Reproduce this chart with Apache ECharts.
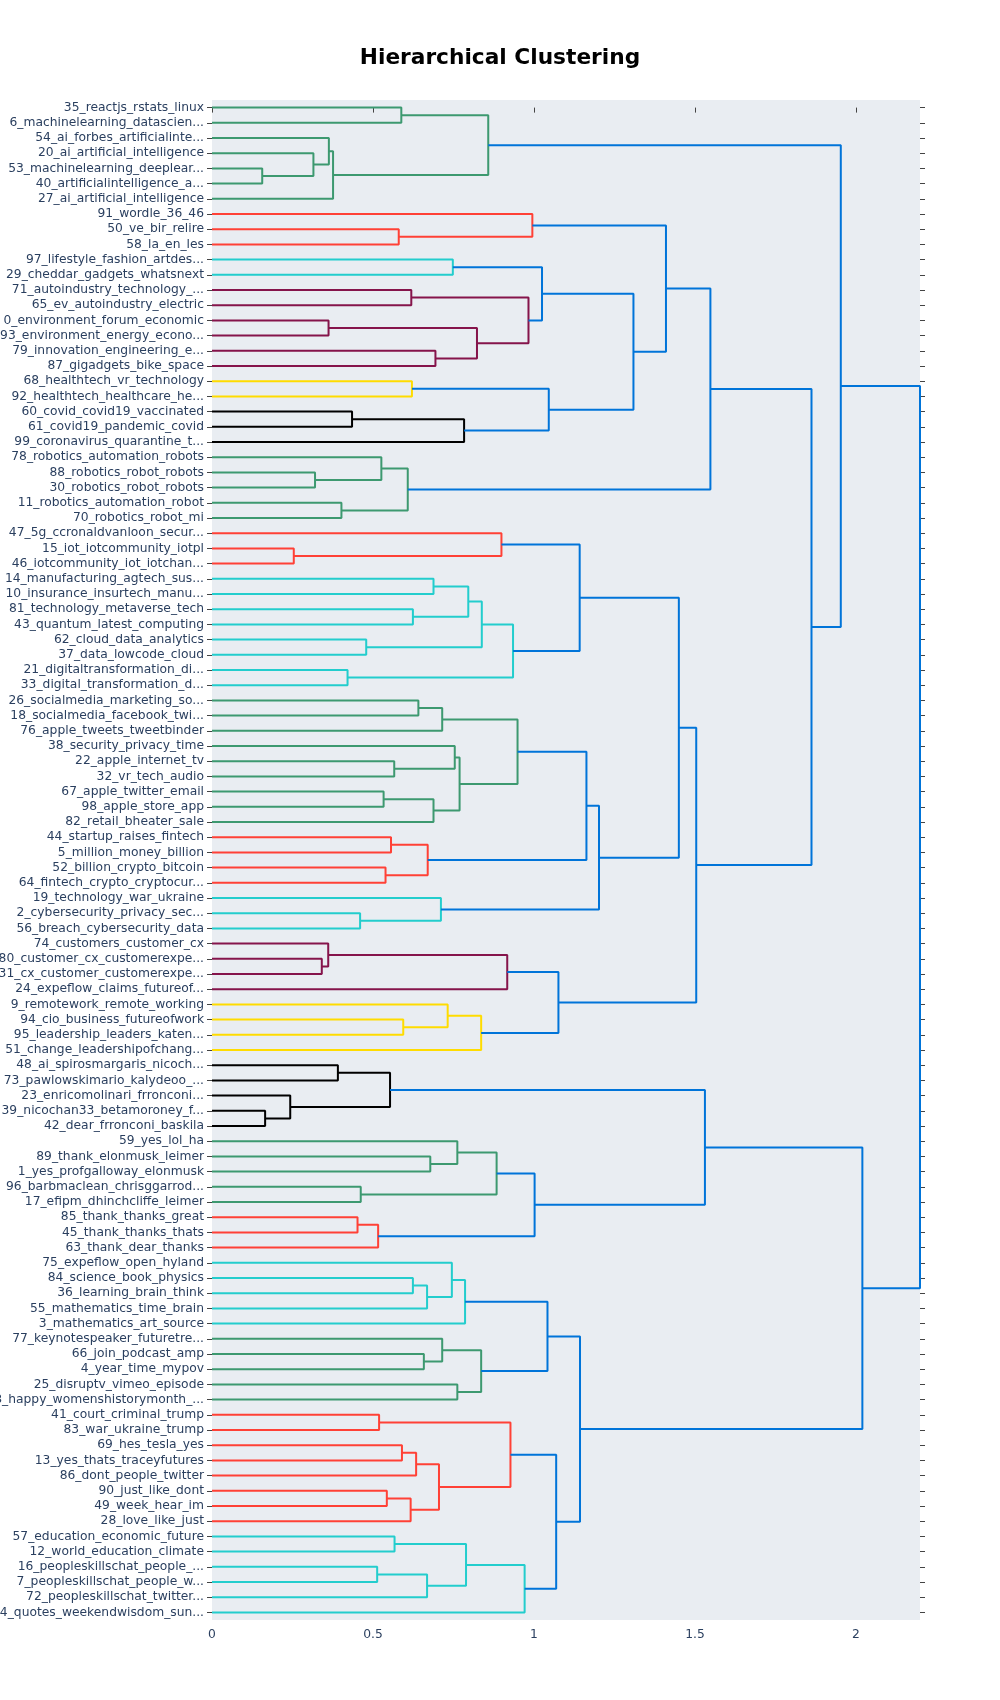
<!DOCTYPE html>
<html><head><meta charset="utf-8">
<script src="https://cdn.jsdelivr.net/npm/echarts@6/dist/echarts.min.js"></script>
<style>html,body{margin:0;padding:0;background:#fff;}#chart{width:1000px;height:1700px;}</style>
</head><body><div id="chart"></div>
<script>
// Leaf labels, top to bottom
const leafLabels = [
"35_reactjs_rstats_linux","6_machinelearning_datascien...","54_ai_forbes_artificialinte...","20_ai_artificial_intelligence",
"53_machinelearning_deeplear...","40_artificialintelligence_a...","27_ai_artificial_intelligence","91_wordle_36_46",
"50_ve_bir_relire","58_la_en_les","97_lifestyle_fashion_artdes...","29_cheddar_gadgets_whatsnext",
"71_autoindustry_technology_...","65_ev_autoindustry_electric","0_environment_forum_economic","93_environment_energy_econo...",
"79_innovation_engineering_e...","87_gigadgets_bike_space","68_healthtech_vr_technology","92_healthtech_healthcare_he...",
"60_covid_covid19_vaccinated","61_covid19_pandemic_covid","99_coronavirus_quarantine_t...","78_robotics_automation_robots",
"88_robotics_robot_robots","30_robotics_robot_robots","11_robotics_automation_robot","70_robotics_robot_mi",
"47_5g_ccronaldvanloon_secur...","15_iot_iotcommunity_iotpl","46_iotcommunity_iot_iotchan...","14_manufacturing_agtech_sus...",
"10_insurance_insurtech_manu...","81_technology_metaverse_tech","43_quantum_latest_computing","62_cloud_data_analytics",
"37_data_lowcode_cloud","21_digitaltransformation_di...","33_digital_transformation_d...","26_socialmedia_marketing_so...",
"18_socialmedia_facebook_twi...","76_apple_tweets_tweetbinder","38_security_privacy_time","22_apple_internet_tv",
"32_vr_tech_audio","67_apple_twitter_email","98_apple_store_app","82_retail_bheater_sale",
"44_startup_raises_fintech","5_million_money_billion","52_billion_crypto_bitcoin","64_fintech_crypto_cryptocur...",
"19_technology_war_ukraine","2_cybersecurity_privacy_sec...","56_breach_cybersecurity_data","74_customers_customer_cx",
"80_customer_cx_customerexpe...","31_cx_customer_customerexpe...","24_expeflow_claims_futureof...","9_remotework_remote_working",
"94_cio_business_futureofwork","95_leadership_leaders_katen...","51_change_leadershipofchang...","48_ai_spirosmargaris_nicoch...",
"73_pawlowskimario_kalydeoo_...","23_enricomolinari_frronconi...","39_nicochan33_betamoroney_f...","42_dear_frronconi_baskila",
"59_yes_lol_ha","89_thank_elonmusk_leimer","1_yes_profgalloway_elonmusk","96_barbmaclean_chrisggarrod...",
"17_efipm_dhinchcliffe_leimer","85_thank_thanks_great","45_thank_thanks_thats","63_thank_dear_thanks",
"75_expeflow_open_hyland","84_science_book_physics","36_learning_brain_think","55_mathematics_time_brain",
"3_mathematics_art_source","77_keynotespeaker_futuretre...","66_join_podcast_amp","4_year_time_mypov",
"25_disruptv_vimeo_episode","8_happy_womenshistorymonth_...","41_court_criminal_trump","83_war_ukraine_trump",
"69_hes_tesla_yes","13_yes_thats_traceyfutures","86_dont_people_twitter","90_just_like_dont",
"49_week_hear_im","28_love_like_just","57_education_economic_future","12_world_education_climate",
"16_peopleskillschat_people_...","7_peopleskillschat_people_w...","72_peopleskillschat_twitter...","34_quotes_weekendwisdom_sun..."
];
// Flat clusters (runs of consecutive leaves) and their colour keys
const clusterSizes = [7,3,2,6,2,3,5,3,8,9,4,3,4,4,5,5,3,5,5,8,6];
const clusterColorKeys = ['g','r','c','m','y','k','g','r','c','g','r','c','m','y','k','g','r','c','g','r','c'];
const palette = {b:'rgb(0,116,217)',c:'rgb(35,205,205)',g:'rgb(61,153,112)',k:'rgb(0,0,0)',m:'rgb(133,20,75)',r:'rgb(255,65,54)',y:'rgb(255,220,0)'};
const colorThreshold = 1.0;
// Linkage: [childA, childB, height]; ids < 100 are leaves, id 100+k is merge k
const linkA = [4,3,2,6,0,104,8,7,10,12,14,16,110,109,108,18,20,116,115,114,107,24,23,26,122,120,29,28,31,33,128,35,130,37,132,127,39,136,43,42,45,140,139,137,48,50,144,143,53,52,147,135,56,55,153,60,59,156,154,151,125,105,63,66,65,162,69,68,71,167,73,170,169,165,77,174,76,176,82,81,84,179,177,86,88,184,91,186,185,183,94,96,191,190,193,189,182,173,161];
const linkB = [5,100,101,102,1,103,9,106,11,13,15,17,111,112,113,19,21,22,117,118,119,25,121,27,123,124,30,126,32,34,129,36,131,38,133,134,40,41,44,138,46,47,141,142,49,51,145,146,54,148,149,150,57,152,58,61,155,62,157,158,159,160,64,67,163,164,70,166,72,168,74,75,171,172,78,79,175,80,83,178,85,180,181,87,89,90,92,93,187,188,95,97,98,192,99,194,195,196,197];
const linkHeight = [0.156,0.315,0.363,0.376,0.588,0.858,0.580,0.995,0.748,0.619,0.362,0.694,0.823,0.983,1.025,0.621,0.435,0.783,1.046,1.309,1.410,0.320,0.526,0.402,0.608,1.548,0.254,0.899,0.688,0.624,0.796,0.479,0.838,0.421,0.935,1.142,0.641,0.715,0.566,0.754,0.533,0.688,0.769,0.949,0.556,0.539,0.670,1.163,0.460,0.711,1.202,1.450,0.341,0.361,0.917,0.594,0.732,0.836,1.076,1.504,1.862,1.953,0.391,0.165,0.243,0.553,0.678,0.762,0.462,0.884,0.452,0.516,1.002,1.531,0.624,0.668,0.745,0.786,0.658,0.715,0.762,0.836,1.042,0.519,0.590,0.634,0.543,0.617,0.705,0.927,0.567,0.513,0.668,0.789,0.971,1.069,1.143,2.020,2.199];
const xTicks = [0,0.5,1,1.5,2];

// leaf colour
const leafColor = [];
clusterSizes.forEach((n,i)=>{ for(let j=0;j<n;j++) leafColor.push(palette[clusterColorKeys[i]]); });
const N = leafLabels.length;
const pos = [], hgt = [], firstLeaf = [];
for (let i=0;i<N;i++){ pos[i]=i; hgt[i]=0; firstLeaf[i]=i; }
const series = [];
linkHeight.forEach((h,k)=>{
  const a = linkA[k], b = linkB[k], id = N + k;
  pos[id] = (pos[a]+pos[b])/2; hgt[id] = h;
  firstLeaf[id] = Math.min(firstLeaf[a], firstLeaf[b]);
  const col = h < colorThreshold ? leafColor[firstLeaf[id]] : palette.b;
  series.push({
    type:'line', yAxisIndex:1, symbol:'none', silent:true, animation:false,
    lineStyle:{color:col, width:2}, z: 2,
    data:[[hgt[a],pos[a]],[h,pos[a]],[h,pos[b]],[hgt[b],pos[b]]]
  });
});

const chart = echarts.init(document.getElementById('chart'), null, {renderer:'canvas'});
const tickStyle = {color:'#444', width:1};
const labelFont = 'DejaVu Sans, Verdana, sans-serif';
chart.setOption({
  backgroundColor:'#fff',
  animation:false,
  title:{text:'Hierarchical Clustering', left:'center', top:42,
    textStyle:{fontFamily:labelFont, fontWeight:'bold', fontSize:21.7, color:'#000'}},
  grid:{left:212, right:80, top:100, bottom:80, show:true, backgroundColor:'#E9EDF2', borderWidth:0, outerBoundsMode:'none'},
  xAxis:[
    {type:'value', position:'bottom', min:0, max:'dataMax',
     axisLine:{show:false}, splitLine:{show:false},
     axisTick:{show:true, length:5, lineStyle:tickStyle, customValues:xTicks},
     axisLabel:{show:true, margin:9, fontFamily:labelFont, fontSize:12.3, color:'#2a3f5f', customValues:xTicks,
       formatter:v=>String(v)}},
    {type:'value', position:'top', min:0, max:'dataMax',
     axisLine:{show:false}, splitLine:{show:false},
     axisTick:{show:true, length:5, lineStyle:tickStyle, customValues:xTicks},
     axisLabel:{show:false}}
  ],
  yAxis:[
    {type:'category', position:'left', inverse:true, data:leafLabels,
     axisLine:{show:false}, splitLine:{show:false},
     axisTick:{show:true, length:5, alignWithLabel:true, interval:0, lineStyle:tickStyle},
     axisLabel:{interval:0, margin:8, fontFamily:labelFont, fontSize:12.3, color:'#2a3f5f'}},
    {type:'value', position:'left', inverse:true, min:-0.5, max:N-0.5, show:false},
    {type:'category', position:'right', inverse:true, data:leafLabels,
     axisLine:{show:false}, splitLine:{show:false},
     axisTick:{show:true, length:5, alignWithLabel:true, interval:0, lineStyle:tickStyle},
     axisLabel:{show:false}}
  ],
  series: series
});
</script>
</body></html>
